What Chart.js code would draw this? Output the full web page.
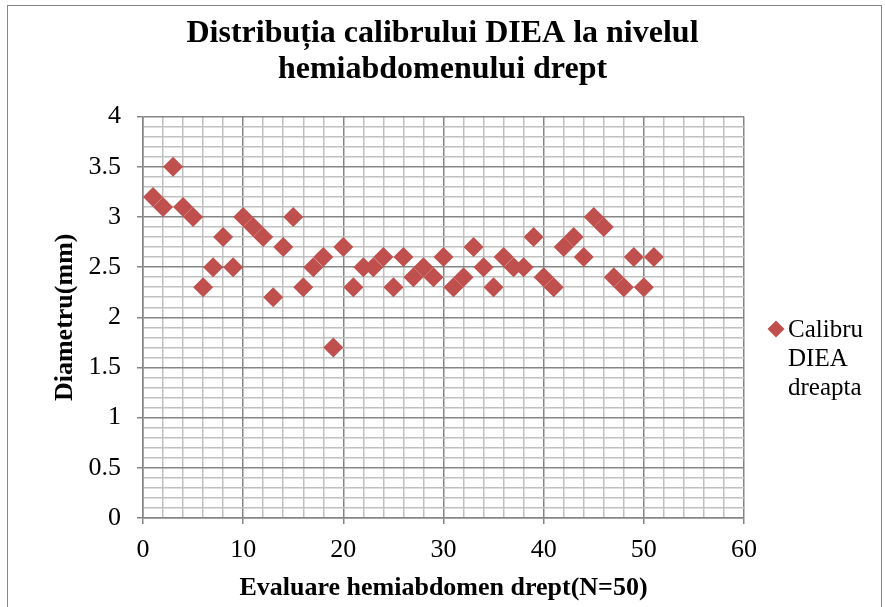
<!DOCTYPE html>
<html>
<head>
<meta charset="utf-8">
<script src="https://cdn.jsdelivr.net/npm/chart.js@4.4.0/dist/chart.umd.min.js"></script>
<style>
    html, body { margin: 0; padding: 0; background: #fff; }
    #wrap { position: relative; width: 885px; height: 607px; overflow: hidden; }
    #frame { position: absolute; left: 7px; top: 5px; width: 873px; height: 640px; border: 1px solid #868686; }
    #chart { position: absolute; left: 0; top: 0; }
    #legend { position: absolute; left: 788px; top: 314px; font-family: 'Liberation Serif', 'Times New Roman', serif; font-size: 25px; line-height: 29px; color: #000; }
    #legend .mark { position: absolute; left: -18px; top: 9px; width: 12px; height: 12px; background: #c0504d; transform: rotate(45deg); }
</style>
</head>
<body>
<div id="wrap">
    <div id="frame"></div>
    <canvas id="chart" width="885" height="607"></canvas>
    <div id="legend"><span class="mark"></span>Calibru<br>DIEA<br>dreapta</div>
</div>
<script>
// Data
const evaluari = [1, 2, 3, 4, 5, 6, 7, 8, 9, 10, 11, 12, 13, 14, 15, 16, 17, 18, 19, 20,
    21, 22, 23, 24, 25, 26, 27, 28, 29, 30, 31, 32, 33, 34, 35, 36, 37, 38, 39, 40,
    41, 42, 43, 44, 45, 46, 47, 48, 49, 50, 51];
const calibruDiea = [3.2, 3.1, 3.5, 3.1, 3.0, 2.3, 2.5, 2.8, 2.5, 3.0, 2.9, 2.8, 2.2, 2.7, 3.0, 2.3, 2.5, 2.6, 1.7, 2.7,
    2.3, 2.5, 2.5, 2.6, 2.3, 2.6, 2.4, 2.5, 2.4, 2.6, 2.3, 2.4, 2.7, 2.5, 2.3, 2.6, 2.5, 2.5, 2.8, 2.4,
    2.3, 2.7, 2.8, 2.6, 3.0, 2.9, 2.4, 2.3, 2.6, 2.3, 2.6];
const xTickLabels = [0, 10, 20, 30, 40, 50, 60];
const yTickLabels = [0, 0.5, 1, 1.5, 2, 2.5, 3, 3.5, 4];

const serif = "'Liberation Serif', 'Times New Roman', serif";
const majorColor = '#868686';
const minorColor = '#c0c0c0';

function isMajor(value, labels) {
    return labels.some(v => Math.abs(v - value) < 1e-6);
}

document.addEventListener('DOMContentLoaded', function() {
    const ctx = document.getElementById('chart').getContext('2d');

    new Chart(ctx, {
        type: 'scatter',
        data: {
            datasets: [{
                label: 'Calibru DIEA dreapta',
                data: evaluari.map((x, i) => ({ x: x, y: calibruDiea[i] })),
                backgroundColor: '#c0504d',
                borderColor: '#c0504d',
                borderWidth: 0,
                pointStyle: 'rectRot',
                pointRadius: 10,
                pointHoverRadius: 10
            }]
        },
        options: {
            responsive: false,
            animation: false,
            events: [],
            layout: { padding: 0 },
            plugins: {
                legend: { display: false },
                tooltip: { enabled: false },
                title: {
                    display: true,
                    text: ['Distribuția calibrului DIEA la nivelul', 'hemiabdomenului drept'],
                    color: '#000',
                    font: { family: serif, size: 32, weight: 'bold', lineHeight: 1.15 },
                    padding: { top: 15, bottom: 28 }
                }
            },
            scales: {
                x: {
                    type: 'linear',
                    min: 0,
                    max: 60,
                    afterFit: function(scale) { scale.height = 89; },
                    border: { color: majorColor, width: 1.5 },
                    grid: {
                        lineWidth: 1.5,
                        tickLength: 6,
                        color: c => isMajor(c.tick.value, xTickLabels) ? majorColor : minorColor,
                        tickColor: c => isMajor(c.tick.value, xTickLabels) ? majorColor : 'transparent'
                    },
                    ticks: {
                        stepSize: 2,
                        autoSkip: false,
                        maxRotation: 0,
                        padding: 11,
                        color: '#000',
                        font: { family: serif, size: 26 },
                        callback: function(value) {
                            return isMajor(value, xTickLabels) ? String(value) : '';
                        }
                    },
                    title: {
                        display: true,
                        text: 'Evaluare hemiabdomen drept(N=50)',
                        color: '#000',
                        font: { family: serif, size: 26, weight: 'bold' },
                        padding: { top: 0, bottom: 3 }
                    }
                },
                y: {
                    min: 0,
                    max: 4,
                    afterFit: function(scale) { scale.width = 143; },
                    border: { color: majorColor, width: 1.5 },
                    grid: {
                        lineWidth: 1.5,
                        tickLength: 6,
                        color: c => isMajor(c.tick.value, yTickLabels) ? majorColor : minorColor,
                        tickColor: c => isMajor(c.tick.value, yTickLabels) ? majorColor : 'transparent'
                    },
                    ticks: {
                        stepSize: 0.1,
                        maxTicksLimit: 100,
                        autoSkip: false,
                        padding: 16,
                        color: '#000',
                        font: { family: serif, size: 26 },
                        callback: function(value) {
                            return isMajor(value, yTickLabels) ? String(Math.round(value * 10) / 10) : '';
                        }
                    },
                    title: {
                        display: true,
                        text: 'Diametru(mm)',
                        color: '#000',
                        font: { family: serif, size: 26, weight: 'bold' },
                        padding: { top: 50, bottom: 0 }
                    }
                },
                // empty right-hand axis, only reserves room for the legend
                legendSpace: {
                    type: 'linear',
                    position: 'right',
                    afterFit: function(scale) { scale.width = 141; },
                    border: { display: false },
                    grid: { display: false },
                    ticks: { display: false }
                }
            }
        }
    });
});
</script>
</body>
</html>
